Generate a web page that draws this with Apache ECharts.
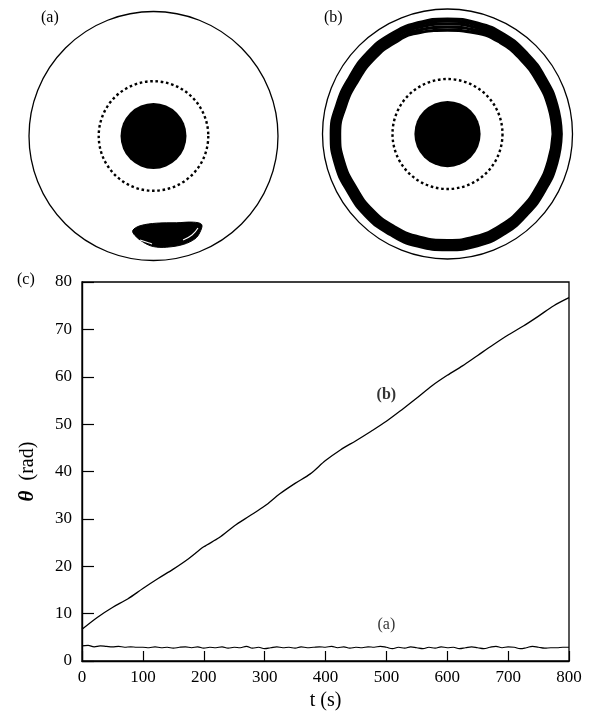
<!DOCTYPE html>
<html><head><meta charset="utf-8">
<script src="https://cdn.jsdelivr.net/npm/echarts@6/dist/echarts.min.js"></script>
<style>html,body{margin:0;padding:0;background:#fff}#c{width:593px;height:719px}</style>
</head><body><div id="c"></div>
<script>
// ---- panel (c): theta(t) ----
const timeB = [0,25,50,75,100,125,150,175,200,225,250,275,300,325,350,375,400,425,450,475,500,525,550,575,600,625,650,675,700,725,750,775,800];
const thetaB = [6.7,9.2,11.3,13.1,15.3,17.4,19.4,21.6,24.1,26.0,28.5,30.6,32.7,35.3,37.5,39.5,42.3,44.6,46.5,48.5,50.6,53.0,55.5,58.1,60.3,62.3,64.5,66.7,68.8,70.7,72.8,75.0,76.7];
const timeA = [0,10,20,30,40,50,60,70,80,90,100,110,120,130,140,150,160,170,180,190,200,210,220,230,240,250,260,270,280,290,300,310,320,330,340,350,360,370,380,390,400,410,420,430,440,450,460,470,480,490,500,510,520,530,540,550,560,570,580,590,600,610,620,630,640,650,660,670,680,690,700,710,720,730,740,750,760,770,780,790,800];
const thetaA = [3.2,3.3,3.0,3.2,3.1,3.0,3.1,2.9,3.0,2.9,
  2.9,2.8,3.0,2.8,2.9,2.7,2.9,3.0,2.8,3.0,
  2.7,2.9,2.8,3.0,2.7,2.9,2.8,3.1,2.7,2.9,
  2.6,2.8,3.0,2.8,2.9,2.7,3.0,2.8,2.9,3.0,
  2.9,3.1,2.8,3.0,2.7,2.9,2.8,3.0,2.9,3.1,
  2.9,2.6,2.9,2.7,3.0,2.8,2.6,2.9,2.7,3.0,
  2.8,2.9,2.6,2.8,3.0,2.8,2.6,2.9,3.1,2.8,
  3.0,2.9,2.6,2.8,3.1,2.9,2.7,2.8,2.8,2.9,
  2.9];
const curveLabels = [{t:500, theta:56.1, text:'(b)', bold:true}, {t:500, theta:7.7, text:'(a)', bold:false}];

// ---- panels (a),(b): geometry in units of outer radius ----
const cylinderRatios = {dotted: 0.44, core: 0.265};
// blob trajectory of (a), outline x,y
const blobX = [-0.167,-0.108,0.026,0.186,0.320,0.387,0.373,0.333,0.239,0.106,-0.002,-0.082,-0.149];
const blobY = [-0.759,-0.721,-0.700,-0.697,-0.692,-0.711,-0.773,-0.826,-0.871,-0.893,-0.888,-0.853,-0.799];
const streakX = [[0.237,0.309,0.357],[-0.108,-0.040,-0.012]];
const streakY = [[-0.835,-0.795,-0.739],[-0.835,-0.858,-0.867]];
// orbit loops of (b), radius at each angle (degrees, counter-clockwise from +x)
const ringAngles = [0,15,30,45,60,75,90,105,120,135,150,165,180,195,210,225,240,255,270,285,300,315,330,345,360];
const orbitRadii = [
  [0.910,0.905,0.900,0.905,0.915,0.920,0.920,0.920,0.918,0.912,0.905,0.915,0.930,0.928,0.920,0.925,0.925,0.928,0.925,0.925,0.918,0.905,0.900,0.905,0.910],
  [0.893,0.888,0.882,0.888,0.898,0.902,0.902,0.903,0.900,0.895,0.888,0.898,0.912,0.912,0.903,0.908,0.908,0.910,0.908,0.907,0.900,0.888,0.882,0.888,0.893],
  [0.876,0.870,0.865,0.870,0.880,0.882,0.880,0.884,0.882,0.877,0.870,0.880,0.895,0.894,0.885,0.890,0.890,0.892,0.890,0.888,0.882,0.870,0.865,0.870,0.876],
  [0.860,0.853,0.848,0.852,0.862,0.860,0.855,0.862,0.862,0.858,0.852,0.862,0.878,0.877,0.867,0.872,0.872,0.873,0.872,0.870,0.864,0.853,0.848,0.852,0.860],
  [0.845,0.838,0.832,0.836,0.845,0.840,0.830,0.842,0.845,0.840,0.835,0.846,0.863,0.860,0.850,0.855,0.855,0.855,0.852,0.852,0.847,0.838,0.832,0.836,0.845]
];

const FONT = 'Liberation Serif';
const panels = [
  {cx:153.5, cy:136, R:124.5},
  {cx:447.5, cy:134, R:125}
];

const polar = [], angleAxis = [], radiusAxis = [], grids = [], xAxes = [], yAxes = [], series = [];

// main grid (c)
grids.push({left:82, top:282, width:487, height:379, show:true, borderColor:'#000', borderWidth:1.3, backgroundColor:'transparent'});
xAxes.push({type:'value', gridIndex:0, min:0, max:800, interval:100,
  name:'t (s)', nameLocation:'middle', nameGap:30,
  nameTextStyle:{fontFamily:FONT, fontSize:20, color:'#000'},
  axisLine:{show:true, lineStyle:{color:'#000', width:1.4}},
  axisTick:{show:true, inside:true, length:10, lineStyle:{color:'#000', width:1.2}},
  axisLabel:{fontFamily:FONT, fontSize:17, color:'#000', margin:8},
  splitLine:{show:false}});
yAxes.push({type:'value', gridIndex:0, min:0, max:80, interval:10,
  name:'{th|θ}  (rad)', nameLocation:'middle', nameGap:44, nameRotate:90,
  nameTextStyle:{fontFamily:FONT, fontSize:20, color:'#000',
    rich:{th:{fontFamily:FONT, fontSize:21, fontStyle:'italic', fontWeight:'bold', color:'#000'}}},
  axisLine:{show:true, lineStyle:{color:'#000', width:1.4}},
  axisTick:{show:true, inside:true, length:12, lineStyle:{color:'#000', width:1.2}},
  axisLabel:{fontFamily:FONT, fontSize:17, color:'#000', margin:10},
  splitLine:{show:false}});

series.push({type:'line', xAxisIndex:0, yAxisIndex:0, data:timeB.map((t,i)=>[t,thetaB[i]]),
  showSymbol:false, smooth:0.3, lineStyle:{color:'#000', width:1.3}, silent:true});
series.push({type:'line', xAxisIndex:0, yAxisIndex:0, data:timeA.map((t,i)=>[t,thetaA[i]]),
  showSymbol:false, smooth:0.4, lineStyle:{color:'#000', width:1.2}, silent:true});
curveLabels.forEach(l=>{
  series.push({type:'scatter', xAxisIndex:0, yAxisIndex:0, data:[[l.t,l.theta]], symbolSize:1,
    itemStyle:{color:'rgba(0,0,0,0)'}, silent:true,
    label:{show:true, position:'inside', formatter:l.text, fontFamily:FONT, fontSize:16,
      fontWeight:l.bold?'bold':'normal', color:'#000'}});
});

panels.forEach((p,k)=>{
  const base = polar.length;
  const radii = [p.R, p.R*cylinderRatios.dotted, p.R*cylinderRatios.core];
  radii.forEach((r,j)=>{
    polar.push({center:[p.cx,p.cy], radius:r});
    const pi = base+j;
    if (j===2) {
      angleAxis.push({polarIndex:pi, type:'category', data:['core'], startAngle:0, clockwise:false,
        axisLine:{show:false}, axisTick:{show:false}, axisLabel:{show:false}, splitLine:{show:false}});
    } else {
      angleAxis.push({polarIndex:pi, type:'value', min:0, max:360, startAngle:0, clockwise:false,
        axisLine:{show:true, lineStyle: j===0 ? {color:'#000', width:1.3} : {color:'#000', width:2.4, type:[2.6,2.7]}},
        axisTick:{show:false}, axisLabel:{show:false}, splitLine:{show:false}});
    }
    radiusAxis.push({polarIndex:pi, type:'value', min:0, max:1, axisLine:{show:false}, axisTick:{show:false},
      axisLabel:{show:false}, splitLine:{show:false}});
  });
  // filled core
  series.push({type:'bar', coordinateSystem:'polar', polarIndex:base+2, data:[1], barWidth:'100%',
    itemStyle:{color:'#000'}, silent:true});
  // cartesian overlay for trajectories
  const gi = grids.length;
  grids.push({left:p.cx-p.R, top:p.cy-p.R, width:2*p.R, height:2*p.R, show:false});
  xAxes.push({type:'value', gridIndex:gi, min:-1, max:1, show:false});
  yAxes.push({type:'value', gridIndex:gi, min:-1, max:1, show:false});
  if (k===0) {
    series.push({type:'custom', xAxisIndex:gi, yAxisIndex:gi, data:[[0,0]], silent:true,
      renderItem:(params, api)=>({type:'polygon',
        shape:{points: blobX.map((x,i)=>api.coord([x, blobY[i]])), smooth:0.35},
        style:{fill:'#000', stroke:'#000', lineWidth:1}})});
    streakX.forEach((sx,s)=>{
      series.push({type:'line', xAxisIndex:gi, yAxisIndex:gi, data:sx.map((x,i)=>[x, streakY[s][i]]),
        showSymbol:false, smooth:0.5, lineStyle:{color:'#fff', width:1.1}, silent:true, z:5});
    });
  } else {
    orbitRadii.forEach(loop=>{
      series.push({type:'line', coordinateSystem:'polar', polarIndex:base,
        data: ringAngles.map((a,i)=>[loop[i], a]), showSymbol:false, smooth:0.5,
        lineStyle:{color:'#000', width:3.2}, silent:true});
    });
  }
});

const chart = echarts.init(document.getElementById('c'), null, {renderer:'canvas'});
chart.setOption({
  animation:false,
  backgroundColor:'#fff',
  title:[
    {text:'(a)', left:36, top:5, textStyle:{fontFamily:FONT, fontSize:16, fontWeight:'normal', color:'#000'}},
    {text:'(b)', left:319, top:5, textStyle:{fontFamily:FONT, fontSize:16, fontWeight:'normal', color:'#000'}},
    {text:'(c)', left:12, top:267, textStyle:{fontFamily:FONT, fontSize:16, fontWeight:'normal', color:'#000'}}
  ],
  polar, angleAxis, radiusAxis,
  grid:grids, xAxis:xAxes, yAxis:yAxes,
  series
});
</script></body></html>
